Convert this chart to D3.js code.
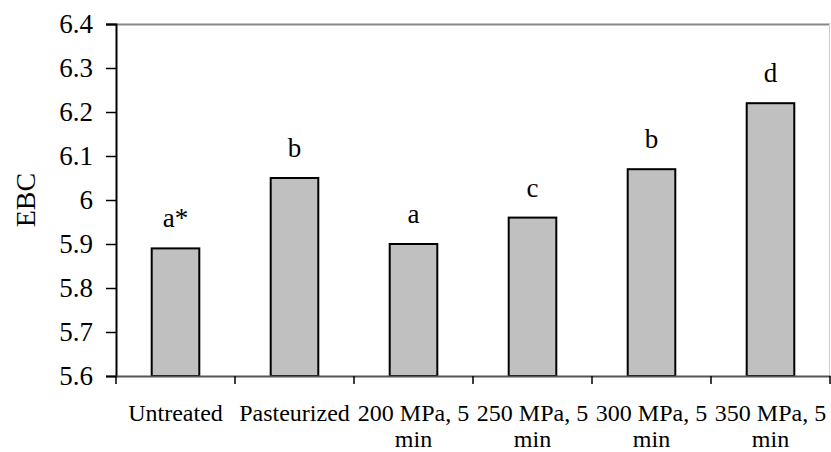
<!DOCTYPE html>
<html>
<head>
<meta charset="utf-8">
<script src="https://cdn.jsdelivr.net/npm/d3@7"></script>
<style>
  body { margin: 0; background: #fff; }
  text { font-family: "Liberation Serif", "Times New Roman", serif; fill: #000; }
</style>
</head>
<body>
<script>
// chart data
var categories = ["Untreated", "Pasteurized", "200 MPa, 5 min", "250 MPa, 5 min", "300 MPa, 5 min", "350 MPa, 5 min"]
  , ebc = [5.89, 6.05, 5.90, 5.96, 6.07, 6.22]
  , letters = ["a*", "b", "a", "c", "b", "d"]
  , yTicks = [5.6, 5.7, 5.8, 5.9, 6, 6.1, 6.2, 6.3, 6.4]
  ;

var width = 831
  , height = 452
  , margin = {top: 24, right: 1, bottom: 76, left: 116}
  , innerW = width - margin.left - margin.right
  , innerH = height - margin.top - margin.bottom
  ;

var svg = d3.select("body").append("svg")
    .attr("width", width)
    .attr("height", height);

var g = svg.append("g")
    .attr("transform", "translate(" + margin.left + "," + margin.top + ")");

var x = d3.scaleBand().domain(categories).range([0, innerW]);
var y = d3.scaleLinear().domain([5.6, 6.4]).range([innerH, 0]);
var barW = x.bandwidth() * 0.4;

// frame: top and right
g.append("line")
    .attr("x1", -10).attr("x2", innerW)
    .attr("y1", 0.5).attr("y2", 0.5)
    .attr("stroke", "#888").attr("stroke-width", 2);
g.append("line")
    .attr("x1", innerW - 0.5).attr("x2", innerW - 0.5)
    .attr("y1", 0).attr("y2", innerH)
    .attr("stroke", "#ccc").attr("stroke-width", 1);

// bars
g.selectAll("rect.bar")
    .data(ebc)
  .enter().append("rect")
    .attr("class", "bar")
    .attr("x", function (d, i) { return x(categories[i]) + (x.bandwidth() - barW) / 2; })
    .attr("y", function (d) { return y(d); })
    .attr("width", barW)
    .attr("height", function (d) { return innerH - y(d); })
    .attr("fill", "#c0c0c0")
    .attr("stroke", "#000")
    .attr("stroke-width", 2);

// significance letters
g.selectAll("text.sig")
    .data(letters)
  .enter().append("text")
    .attr("class", "sig")
    .attr("x", function (d, i) { return x(categories[i]) + x.bandwidth() / 2; })
    .attr("y", function (d, i) { return y(ebc[i]) - 21; })
    .attr("text-anchor", "middle")
    .style("font-size", "27px")
    .text(function (d) { return d; });

// y axis
var yAxis = g.append("g")
    .call(d3.axisLeft(y).tickValues(yTicks).tickSize(10).tickPadding(13)
        .tickFormat(function (d) { return String(+d.toFixed(1)); }));
yAxis.select(".domain").attr("stroke", "#000").attr("stroke-width", 2);
yAxis.selectAll(".tick line").attr("stroke", "#000").attr("stroke-width", 1.5);
yAxis.selectAll("text").style("font-size", "27px").attr("font-family", null);

// x axis
var xAxis = g.append("g")
    .attr("transform", "translate(0," + innerH + ")")
    .call(d3.axisBottom(x).tickSize(0).tickPadding(28));
xAxis.select(".domain").attr("stroke", "#555").attr("stroke-width", 2);
xAxis.selectAll("text").style("font-size", "24px").attr("font-family", null).call(wrap, x.bandwidth());

// category boundary ticks
g.selectAll("line.xtick")
    .data(d3.range(categories.length + 1))
  .enter().append("line")
    .attr("class", "xtick")
    .attr("x1", function (i) { return i * x.bandwidth(); })
    .attr("x2", function (i) { return i * x.bandwidth(); })
    .attr("y1", innerH).attr("y2", innerH + 8)
    .attr("stroke", "#000").attr("stroke-width", 1.5);

// axis title
svg.append("text")
    .attr("transform", "translate(35," + (margin.top + innerH / 2) + ") rotate(-90)")
    .attr("text-anchor", "middle")
    .style("font-size", "28px")
    .text("EBC");

function wrap (text, w) {
    text.each(function () {
        var t = d3.select(this)
          , words = t.text().split(/\s+/)
          , xPos = t.attr("x") || 0
          , y0 = t.attr("y")
          , dy = parseFloat(t.attr("dy"))
          , line = []
          , lineNo = 0
          , tspan = t.text(null).append("tspan").attr("x", xPos).attr("y", y0).attr("dy", dy + "em")
          ;
        words.forEach(function (word) {
            line.push(word);
            tspan.text(line.join(" "));
            if (tspan.node().getComputedTextLength() > w && line.length > 1) {
                line.pop();
                tspan.text(line.join(" "));
                line = [word];
                lineNo++;
                tspan = t.append("tspan").attr("x", xPos).attr("y", y0)
                    .attr("dy", (dy + lineNo * 1.07) + "em").text(word);
            }
        });
    });
}
</script>
</body>
</html>
